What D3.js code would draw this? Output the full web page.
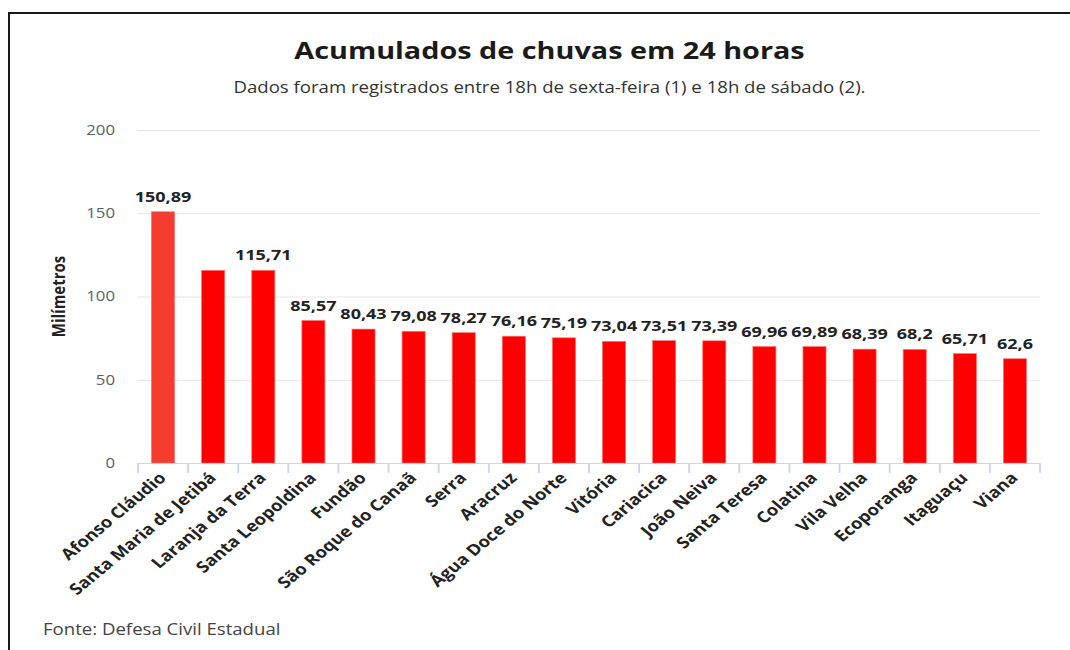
<!DOCTYPE html>
<html lang="pt-BR">
<head>
<meta charset="utf-8">
<title>Acumulados de chuvas em 24 horas</title>
<script src="https://d3js.org/d3.v7.min.js"></script>
<style>
  body { margin: 0; background: #fff; }
  svg { display: block; font-family: "Open Sans", sans-serif; }
</style>
</head>
<body>
<div id="chart"></div>
<script>
// cities and rain totals (mm)
var cities = ["Afonso Cláudio", "Santa Maria de Jetibá", "Laranja da Terra", "Santa Leopoldina",
  "Fundão", "São Roque do Canaã", "Serra", "Aracruz", "Água Doce do Norte", "Vitória",
  "Cariacica", "João Neiva", "Santa Teresa", "Colatina", "Vila Velha", "Ecoporanga",
  "Itaguaçu", "Viana"]
var values = [150.89, 115.71, 115.71, 85.57, 80.43, 79.08, 78.27, 76.16, 75.19, 73.04,
  73.51, 73.39, 69.96, 69.89, 68.39, 68.2, 65.71, 62.6]
// labels as printed on the chart (second bar has no label)
var labels = ["150,89", "", "115,71", "85,57", "80,43", "79,08", "78,27", "76,16", "75,19", "73,04",
  "73,51", "73,39", "69,96", "69,89", "68,39", "68,2", "65,71", "62,6"]
var yTicks = [0, 50, 100, 150, 200]

var width = 1070, height = 650
// the picture is a chart stretched sideways, so draw in a squeezed frame
var sx = 1.2
var W = width / sx
var plotLeft = 138 / sx, plotRight = 1040 / sx
var plotTop = 130, plotBottom = 463

var svg = d3.select("#chart").append("svg")
  .attr("width", width)
  .attr("height", height)

// frame (only top and left edges are in view)
svg.append("path")
  .attr("d", "M9,660 L9,13 L1080,13")
  .attr("fill", "none")
  .attr("stroke", "#1a1a1a")
  .attr("stroke-width", 2)

var g = svg.append("g").attr("transform", "scale(" + sx + ",1)")

var x = d3.scaleBand()
  .domain(cities)
  .range([plotLeft, plotRight])
  .paddingInner(0.54)
  .paddingOuter(0.27)

var y = d3.scaleLinear()
  .domain([0, 200])
  .range([plotBottom, plotTop])

// title + subtitle
g.append("text")
  .attr("x", 549.5 / sx).attr("y", 59)
  .attr("text-anchor", "middle")
  .style("font-size", "24px").style("font-weight", "700").style("fill", "#1a1a1a")
  .text("Acumulados de chuvas em 24 horas")

g.append("text")
  .attr("x", 549.5 / sx).attr("y", 93)
  .attr("text-anchor", "middle")
  .style("font-size", "15.5px").style("fill", "#333")
  .text("Dados foram registrados entre 18h de sexta-feira (1) e 18h de sábado (2).")

// grid lines
g.append("g")
  .selectAll("line")
  .data(yTicks.slice(1))
  .enter().append("line")
    .attr("x1", plotLeft)
    .attr("x2", plotRight)
    .attr("y1", function(d){ return y(d) + 0.5 })
    .attr("y2", function(d){ return y(d) + 0.5 })
    .attr("stroke", "#e6e6e6")

// y tick labels
g.append("g")
  .selectAll("text")
  .data(yTicks)
  .enter().append("text")
    .attr("x", 115 / sx)
    .attr("y", function(d){ return y(d) + 5 })
    .attr("text-anchor", "end")
    .style("font-size", "14px").style("fill", "#5a5f6a")
    .text(function(d){ return d })

// y axis title
g.append("text")
  .attr("transform", "translate(" + (65 / sx) + "," + y(100) + ") rotate(-90)")
  .attr("text-anchor", "middle")
  .style("font-size", "15px").style("font-weight", "700").style("fill", "#222")
  .text("Milímetros")

// bars
g.append("g")
  .selectAll("rect")
  .data(values)
  .enter().append("rect")
    .attr("x", function(d, i){ return x(cities[i]) })
    .attr("y", function(d){ return y(d) })
    .attr("width", x.bandwidth())
    .attr("height", function(d){ return y(0) - y(d) })
    .attr("fill", function(d, i){ return i == 0 ? "#f43c2f" : "#ff0000" })
    .attr("stroke", "#ff7070")
    .attr("stroke-width", 0.6)

// value labels
g.append("g")
  .selectAll("text")
  .data(values)
  .enter().append("text")
    .attr("x", function(d, i){ return x(cities[i]) + x.bandwidth() / 2 })
    .attr("y", function(d){ return y(d) - 10 })
    .attr("text-anchor", "middle")
    .style("font-size", "15px").style("font-weight", "700").style("fill", "#222")
    .style("paint-order", "stroke").style("stroke", "#fff").style("stroke-width", "2px")
    .text(function(d, i){ return labels[i] })

// x axis line + ticks
var step = x.step()
var axisG = g.append("g").attr("stroke", "#ccd6eb")
axisG.append("line")
  .attr("x1", plotLeft).attr("x2", plotRight)
  .attr("y1", y(0) + 0.5).attr("y2", y(0) + 0.5)
axisG.selectAll("line.tick")
  .data(d3.range(cities.length + 1))
  .enter().append("line")
    .attr("class", "tick")
    .attr("x1", function(i){ return plotLeft + i * step })
    .attr("x2", function(i){ return plotLeft + i * step })
    .attr("y1", y(0))
    .attr("y2", y(0) + 10)
    .attr("stroke-width", 1.6)

// rotated category labels
g.append("g")
  .selectAll("text")
  .data(cities)
  .enter().append("text")
    .attr("transform", function(d){
      return "translate(" + (x(d) + x.bandwidth() / 2 + 4 / sx) + "," + (y(0) + 16) + ") rotate(-45)"
    })
    .attr("text-anchor", "end")
    .style("font-size", "15.5px").style("font-weight", "700").style("fill", "#222")
    .text(function(d){ return d })

// source
g.append("text")
  .attr("x", 43 / sx).attr("y", 635)
  .style("font-size", "15.5px").style("fill", "#444")
  .text("Fonte: Defesa Civil Estadual")
</script>
</body>
</html>
